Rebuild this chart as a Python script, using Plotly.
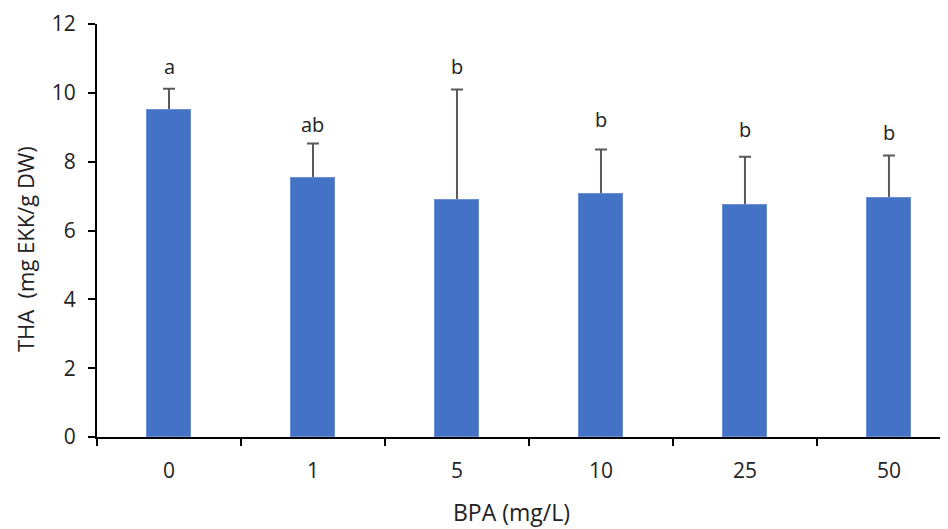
import plotly.graph_objects as go

categories = ["0", "1", "5", "10", "25", "50"]
means = [9.49, 7.52, 6.90, 7.05, 6.74, 6.94]
errors = [0.63, 1.01, 3.20, 1.30, 1.40, 1.24]
letters = ["a", "ab", "b", "b", "b", "b"]
letter_y = [10.76, 9.08, 10.76, 9.22, 8.93, 8.84]
x_title = "BPA (mg/L)"
y_title = "THA  (mg EKK/g DW)"

FONT = "Open Sans"
BAR_COLOR = "#4472C4"
TXT = "#222222"

fig = go.Figure()
# bars carrying the (upper) error bars
fig.add_trace(go.Bar(
    x=categories, y=means, width=0.31,
    marker=dict(color=BAR_COLOR, line=dict(color="#6C8FD3", width=1)),
    error_y=dict(type="data", array=errors, arrayminus=[0.3] * len(errors),
                 symmetric=False, color="#595959", thickness=2, width=6),
    showlegend=False, hoverinfo="skip",
))
# identical bars on top, hiding the lower end of the error bars
fig.add_trace(go.Bar(
    x=categories, y=means, width=0.31,
    marker=dict(color=BAR_COLOR, line=dict(color="#6C8FD3", width=1)),
    showlegend=False,
))

for i, (t, yv) in enumerate(zip(letters, letter_y)):
    fig.add_annotation(x=i, y=yv, text=t, showarrow=False,
                       font=dict(family=FONT, size=20, color=TXT),
                       yanchor="middle", xanchor="center")

# axis titles
fig.add_annotation(xref="paper", yref="paper", x=0.487, y=-0.182, text=x_title,
                   showarrow=False, xanchor="center", yanchor="middle",
                   font=dict(family=FONT, size=23, color=TXT))
fig.add_annotation(xref="paper", yref="paper", x=-0.0846, y=0.455, text=y_title,
                   showarrow=False, xanchor="center", yanchor="middle", textangle=-90,
                   font=dict(family=FONT, size=22, color=TXT))

fig.update_layout(
    width=940, height=521,
    margin=dict(l=89, r=0, t=16, b=92),
    plot_bgcolor="white", paper_bgcolor="white",
    font=dict(family=FONT, color=TXT),
    barmode="overlay", bargap=0,
)
fig.update_xaxes(
    type="category", range=[-0.5, 5.41],
    tickson="boundaries", ticks="outside", ticklen=7, tickwidth=2, tickcolor="black",
    showline=True, linecolor="black", linewidth=2, showgrid=False,
    tickfont=dict(family=FONT, size=21, color=TXT),
    ticklabelstandoff=14,
)
fig.update_yaxes(
    range=[0, 12], tickvals=[0, 2, 4, 6, 8, 10, 12],
    ticks="outside", ticklen=7, tickwidth=2, tickcolor="black",
    showline=True, linecolor="black", linewidth=2, showgrid=False, zeroline=False,
    tickfont=dict(family=FONT, size=21, color=TXT),
    ticklabelstandoff=8,
)

fig.write_html("out.html")
